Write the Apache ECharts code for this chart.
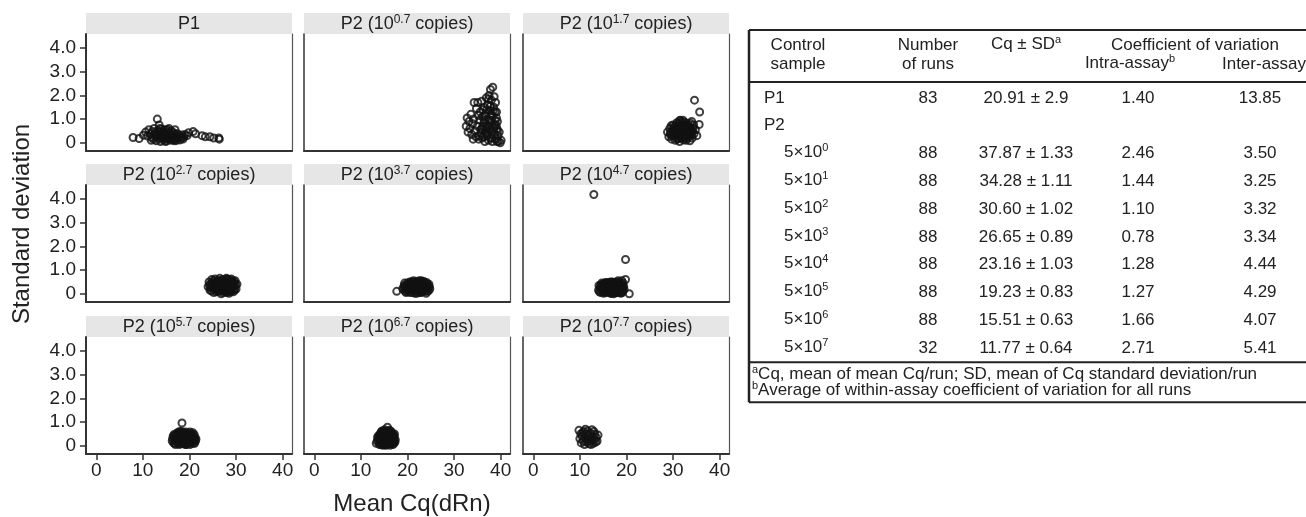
<!DOCTYPE html>
<html><head><meta charset="utf-8">
<script src="https://cdn.jsdelivr.net/npm/echarts@6/dist/echarts.min.js"></script>
<style>html,body{margin:0;padding:0;background:#fff}#c{width:1306px;height:517px}</style>
</head><body><div id="c"></div>
<script>
// ---------- DATA ----------
const panelBase = ['P1','P2 (10','P2 (10','P2 (10','P2 (10','P2 (10','P2 (10','P2 (10','P2 (10'];
const panelExp  = ['','0.7','1.7','2.7','3.7','4.7','5.7','6.7','7.7'];
const xTicks = [0,10,20,30,40];
const yTicks = [0,1,2,3,4];
const xTitle = 'Mean Cq(dRn)';
const yTitle = 'Standard deviation';

const dataP1 = [[7.9,0.22],[9.2,0.18],[10.1,0.32],[10.6,0.45],[11.0,0.28],[11.3,0.55],[11.6,0.38],[11.9,0.22],[12.1,0.48],[12.3,0.15],[12.4,0.6],[12.6,0.33],[12.8,0.42],[12.9,0.08],[13.0,0.25],[13.1,1.0],[13.2,0.52],[13.3,0.36],[13.4,0.18],[13.5,0.75],[13.6,0.45],[13.7,0.28],[13.8,0.05],[13.9,0.38],[14.0,0.58],[14.1,0.22],[14.2,0.32],[14.3,0.12],[14.4,0.47],[14.5,0.27],[14.6,0.4],[14.7,0.18],[14.8,0.55],[14.9,0.3],[15.0,0.08],[15.1,0.36],[15.2,0.24],[15.3,0.45],[15.4,0.15],[15.5,0.32],[15.6,0.6],[15.7,0.2],[15.8,0.4],[15.9,0.1],[16.0,0.28],[16.1,0.5],[16.2,0.18],[16.3,0.35],[16.4,0.25],[16.5,0.12],[16.6,0.42],[16.7,0.3],[16.8,0.2],[16.9,0.55],[17.0,0.15],[17.1,0.34],[17.2,0.24],[17.3,0.1],[17.4,0.38],[17.6,0.2],[17.8,0.28],[18.0,0.12],[18.2,0.33],[18.4,0.22],[18.6,0.16],[18.8,0.25],[19.0,0.35],[11.8,0.1],[12.2,0.3],[14.9,0.05],[16.8,0.08],[13.6,0.6],[15.3,0.55],[19.5,0.3],[20.8,0.47],[21.3,0.38],[22.7,0.3],[23.4,0.25],[24.4,0.25],[25.2,0.2],[26.3,0.2],[26.4,0.15],[19.8,0.42]];
const dataP2e07 = [[32.6,0.7],[32.8,1.05],[33.0,0.45],[33.2,0.9],[33.4,0.6],[33.6,1.2],[33.8,0.35],[34.0,0.8],[34.2,1.0],[34.3,1.7],[34.5,0.5],[34.7,0.25],[34.8,1.45],[35.0,0.7],[35.1,1.7],[35.3,0.15],[35.5,0.95],[35.6,1.3],[35.8,0.4],[35.9,1.75],[36.0,0.6],[36.1,1.1],[36.3,0.25],[36.4,0.85],[36.5,1.5],[36.6,0.05],[36.7,0.5],[36.8,1.25],[36.9,1.9],[37.0,0.75],[37.1,0.3],[37.2,1.6],[37.3,1.0],[37.4,0.1],[37.5,2.0],[37.6,0.55],[37.7,1.35],[37.8,2.25],[37.9,0.85],[38.0,1.8],[38.1,0.2],[38.2,1.15],[38.3,2.35],[38.4,0.65],[38.5,1.5],[38.6,1.95],[38.7,0.35],[38.8,0.95],[38.9,1.7],[39.0,0.15],[39.1,1.3],[39.2,0.6],[39.3,0.9],[39.4,0.3],[39.5,0.05],[39.7,0.45],[39.9,0.0],[40.1,0.1],[38.2,0.05],[36.2,1.4],[35.2,1.15],[34.1,0.15],[37.4,1.85],[38.0,0.45],[36.8,0.6],[35.7,0.55],[37.9,1.2],[38.8,1.3],[36.5,0.95],[39.0,0.75],[37.2,0.4],[35.4,0.3],[38.5,0.55],[37.6,0.95],[36.0,0.2],[39.2,0.05],[36.2,0.7],[36.6,1.15],[37.0,1.4],[37.3,0.65],[37.7,0.2],[38.1,0.95],[38.4,1.35],[38.7,0.75],[39.1,1.05],[39.3,0.5],[37.8,1.55],[36.9,0.4]];
const dataP2e17 = [[28.8,0.45],[29.1,0.25],[29.3,0.6],[29.5,0.35],[29.7,0.15],[29.9,0.5],[30.0,0.75],[30.2,0.3],[30.4,0.55],[30.5,0.1],[30.7,0.42],[30.8,0.85],[31.0,0.25],[31.1,0.62],[31.3,0.38],[31.4,0.05],[31.5,0.95],[31.6,0.5],[31.8,0.2],[31.9,0.7],[32.0,0.4],[32.2,0.12],[32.3,0.58],[32.4,0.88],[32.6,0.3],[32.7,0.48],[32.9,0.72],[33.0,0.18],[33.2,0.4],[33.4,0.6],[33.5,0.28],[33.7,0.82],[33.9,0.45],[34.1,0.2],[34.3,0.62],[34.5,0.38],[34.8,0.55],[35.1,0.3],[35.6,0.77],[35.7,1.3],[34.6,1.8],[30.3,0.68],[31.2,0.82],[32.1,0.95],[32.8,0.1],[33.6,0.08],[31.7,0.35],[30.9,0.15],[29.6,0.72],[34.0,0.9],[29.4,0.42],[29.8,0.28],[30.1,0.58],[30.3,0.45],[30.6,0.32],[30.6,0.7],[30.8,0.52],[31.0,0.4],[31.1,0.18],[31.2,0.55],[31.3,0.72],[31.5,0.3],[31.6,0.65],[31.7,0.48],[31.8,0.85],[31.9,0.25],[32.0,0.6],[32.1,0.35],[32.2,0.75],[32.3,0.42],[32.4,0.2],[32.5,0.55],[32.6,0.68],[32.7,0.32],[32.8,0.82],[32.9,0.45],[33.0,0.58],[33.1,0.25],[33.2,0.78],[33.3,0.5],[33.4,0.35],[33.5,0.65],[33.7,0.42],[33.8,0.6],[34.0,0.3],[34.2,0.48],[34.4,0.75],[31.4,0.92]];
const dataP2e27 = [[24.0,0.3],[24.2,0.5],[24.4,0.15],[24.6,0.4],[24.8,0.6],[25.0,0.25],[25.2,0.05],[25.4,0.45],[25.5,0.62],[25.7,0.2],[25.9,0.35],[26.0,0.55],[26.2,0.1],[26.4,0.3],[26.5,0.65],[26.7,0.45],[26.8,0.0],[27.0,0.22],[27.1,0.58],[27.3,0.38],[27.4,0.12],[27.6,0.5],[27.7,0.28],[27.9,0.65],[28.0,0.05],[28.2,0.42],[28.3,0.2],[28.5,0.6],[28.6,0.32],[28.8,0.1],[28.9,0.5],[29.1,0.25],[29.3,0.45],[29.4,0.08],[29.6,0.35],[29.8,0.55],[30.0,0.2],[30.2,0.4],[25.3,0.35],[26.1,0.4],[27.2,0.05],[28.1,0.55],[29.0,0.62],[26.9,0.3],[25.8,0.5],[27.8,0.15],[24.5,0.25],[29.7,0.15],[24.3,0.38],[24.7,0.12],[24.9,0.48],[25.1,0.3],[25.4,0.18],[25.6,0.4],[25.8,0.08],[26.0,0.28],[26.2,0.48],[26.3,0.2],[26.5,0.38],[26.6,0.12],[26.8,0.55],[27.0,0.4],[27.1,0.15],[27.3,0.6],[27.4,0.28],[27.5,0.45],[27.7,0.08],[27.8,0.38],[28.0,0.25],[28.1,0.62],[28.3,0.35],[28.4,0.1],[28.6,0.48],[28.7,0.22],[28.9,0.38],[29.0,0.12],[29.2,0.55],[29.3,0.3],[29.5,0.2],[29.6,0.5],[29.9,0.38],[26.4,0.55],[25.5,0.25],[27.5,0.22],[28.5,0.02],[26.7,0.25],[25.2,0.55],[29.1,0.45]];
const dataP2e37 = [[17.7,0.1],[19.0,0.2],[19.3,0.35],[19.5,0.1],[19.8,0.28],[20.0,0.45],[20.2,0.15],[20.4,0.32],[20.6,0.05],[20.8,0.5],[21.0,0.22],[21.2,0.4],[21.3,0.55],[21.5,0.12],[21.7,0.3],[21.9,0.48],[22.0,0.02],[22.2,0.25],[22.4,0.38],[22.5,0.55],[22.7,0.15],[22.9,0.32],[23.1,0.45],[23.2,0.08],[23.4,0.28],[23.6,0.4],[23.8,0.18],[24.0,0.35],[24.2,0.1],[24.4,0.25],[24.6,0.4],[24.8,0.2],[20.5,0.38],[21.6,0.02],[22.8,0.5],[23.5,0.52],[19.7,0.05],[24.1,0.48],[19.2,0.28],[19.4,0.45],[19.6,0.18],[19.9,0.38],[20.1,0.08],[20.3,0.25],[20.5,0.5],[20.7,0.18],[20.9,0.35],[21.1,0.05],[21.2,0.28],[21.4,0.45],[21.5,0.35],[21.6,0.2],[21.8,0.52],[21.9,0.12],[22.0,0.38],[22.1,0.28],[22.3,0.48],[22.3,0.1],[22.5,0.22],[22.6,0.4],[22.7,0.3],[22.9,0.05],[23.0,0.22],[23.0,0.55],[23.2,0.38],[23.3,0.18],[23.5,0.3],[23.7,0.1],[23.8,0.45],[23.9,0.25],[24.1,0.2],[24.3,0.38],[24.5,0.12],[24.7,0.3],[20.0,0.22],[20.6,0.28],[21.0,0.45],[21.8,0.25],[22.2,0.15],[22.6,0.05],[23.4,0.45],[24.0,0.02],[19.5,0.25],[21.3,0.15]];
const dataP2e47 = [[13.0,4.2],[19.8,1.45],[19.8,0.6],[20.6,0.0],[14.0,0.15],[14.3,0.3],[14.5,0.05],[14.8,0.22],[15.0,0.4],[15.2,0.12],[15.4,0.3],[15.6,0.48],[15.8,0.08],[16.0,0.25],[16.2,0.38],[16.4,0.15],[16.6,0.5],[16.8,0.02],[17.0,0.3],[17.2,0.18],[17.4,0.42],[17.6,0.1],[17.8,0.28],[18.0,0.5],[18.2,0.2],[18.4,0.35],[18.6,0.05],[18.8,0.25],[19.0,0.42],[19.2,0.15],[19.4,0.3],[15.1,0.02],[16.9,0.45],[17.9,0.05],[18.9,0.1],[15.9,0.35],[14.6,0.38],[17.3,0.0],[14.1,0.35],[14.2,0.08],[14.4,0.2],[14.7,0.45],[14.9,0.1],[15.0,0.28],[15.2,0.42],[15.3,0.2],[15.5,0.05],[15.6,0.32],[15.7,0.22],[15.8,0.45],[16.0,0.12],[16.1,0.3],[16.2,0.05],[16.3,0.48],[16.4,0.28],[16.5,0.35],[16.7,0.2],[16.8,0.4],[16.9,0.12],[17.0,0.5],[17.1,0.05],[17.2,0.35],[17.4,0.25],[17.5,0.48],[17.6,0.3],[17.7,0.15],[17.8,0.42],[18.0,0.05],[18.1,0.32],[18.3,0.12],[18.4,0.48],[18.5,0.22],[18.7,0.4],[18.8,0.02],[19.0,0.3],[19.1,0.05],[19.3,0.45],[19.5,0.18],[15.4,0.45],[16.6,0.02],[17.9,0.22],[18.6,0.32],[14.8,0.32],[16.2,0.25],[17.5,0.08],[19.2,0.28],[19.0,0.55],[18.2,0.55]];
const dataP2e57 = [[18.4,0.96],[16.3,0.2],[16.5,0.4],[16.8,0.1],[17.0,0.3],[17.2,0.5],[17.4,0.18],[17.6,0.38],[17.8,0.05],[18.0,0.28],[18.2,0.48],[18.4,0.15],[18.6,0.35],[18.8,0.55],[19.0,0.22],[19.2,0.42],[19.4,0.08],[19.6,0.3],[19.8,0.5],[20.0,0.15],[20.2,0.38],[20.4,0.25],[20.6,0.45],[20.8,0.1],[21.0,0.32],[21.3,0.2],[17.9,0.6],[19.1,0.05],[20.1,0.58],[18.9,0.3],[16.4,0.3],[16.6,0.12],[16.7,0.48],[16.9,0.22],[17.0,0.05],[17.1,0.38],[17.3,0.28],[17.4,0.55],[17.5,0.1],[17.6,0.22],[17.7,0.45],[17.8,0.32],[17.9,0.15],[18.0,0.5],[18.1,0.38],[18.2,0.08],[18.3,0.25],[18.4,0.42],[18.5,0.55],[18.6,0.2],[18.7,0.1],[18.8,0.35],[18.9,0.48],[19.0,0.15],[19.1,0.32],[19.2,0.58],[19.3,0.25],[19.4,0.45],[19.5,0.18],[19.6,0.52],[19.7,0.1],[19.8,0.35],[19.9,0.25],[20.0,0.42],[20.1,0.05],[20.2,0.28],[20.3,0.5],[20.4,0.12],[20.5,0.35],[20.6,0.22],[20.7,0.55],[20.8,0.38],[20.9,0.2],[21.0,0.48],[21.1,0.1],[21.2,0.35],[17.2,0.2],[17.8,0.55],[18.3,0.6],[18.7,0.45],[19.3,0.05],[19.6,0.4],[20.0,0.3],[20.4,0.45],[16.8,0.4],[17.5,0.35],[18.1,0.18],[21.4,0.28]];
const dataP2e67 = [[13.3,0.1],[13.8,0.25],[14.0,0.45],[14.2,0.15],[14.4,0.35],[14.5,0.55],[14.7,0.2],[14.9,0.4],[15.0,0.05],[15.1,0.6],[15.3,0.3],[15.5,0.48],[15.6,0.12],[15.7,0.78],[15.8,0.35],[16.0,0.55],[16.1,0.2],[16.3,0.42],[16.5,0.08],[16.6,0.3],[16.8,0.5],[17.0,0.18],[17.2,0.35],[17.4,0.25],[14.6,0.62],[16.2,0.65],[15.4,0.02],[16.9,0.05],[13.5,0.2],[13.6,0.35],[13.9,0.12],[14.0,0.3],[14.1,0.5],[14.2,0.4],[14.3,0.05],[14.3,0.25],[14.5,0.15],[14.5,0.42],[14.6,0.3],[14.7,0.55],[14.8,0.1],[14.8,0.35],[14.9,0.22],[15.0,0.45],[15.0,0.3],[15.1,0.15],[15.2,0.52],[15.2,0.05],[15.3,0.4],[15.4,0.22],[15.4,0.6],[15.5,0.3],[15.6,0.42],[15.6,0.05],[15.7,0.2],[15.7,0.55],[15.8,0.12],[15.9,0.45],[15.9,0.28],[16.0,0.38],[16.0,0.08],[16.1,0.5],[16.2,0.32],[16.2,0.15],[16.3,0.25],[16.4,0.55],[16.4,0.38],[16.5,0.2],[16.6,0.45],[16.7,0.12],[16.7,0.35],[16.8,0.25],[16.9,0.4],[17.0,0.3],[17.1,0.45],[17.1,0.1],[17.3,0.15],[14.4,0.6],[15.1,0.68],[15.8,0.62],[16.5,0.6],[13.7,0.4],[14.0,0.05],[16.0,0.2],[15.3,0.1],[14.7,0.02],[16.3,0.02],[17.2,0.5]];
const dataP2e77 = [[9.8,0.65],[10.0,0.3],[10.2,0.5],[10.3,0.12],[10.5,0.4],[10.7,0.2],[10.8,0.6],[11.0,0.05],[11.1,0.35],[11.3,0.5],[11.4,0.15],[11.6,0.28],[11.7,0.62],[11.9,0.42],[12.0,0.08],[12.2,0.3],[12.3,0.52],[12.5,0.2],[12.6,0.68],[12.8,0.38],[12.9,0.1],[13.1,0.25],[13.2,0.5],[13.4,0.15],[13.5,0.35],[13.7,0.2],[13.9,0.45],[10.6,0.55],[11.8,0.18],[12.4,0.05],[13.0,0.6],[11.2,0.7]];
const panelData = [dataP1,dataP2e07,dataP2e17,dataP2e27,dataP2e37,dataP2e47,dataP2e57,dataP2e67,dataP2e77];

// table
const tableHead1 = ['Control','Number','Cq ± SD','Coefficient of variation'];
const tableHead2 = ['sample','of runs','Intra-assay','Inter-assay'];
const sampleBase = ['P1','P2','5×10','5×10','5×10','5×10','5×10','5×10','5×10','5×10'];
const sampleExp  = ['','','0','1','2','3','4','5','6','7'];
const runs  = ['83','','88','88','88','88','88','88','88','32'];
const cqSd  = ['20.91 ± 2.9','','37.87 ± 1.33','34.28 ± 1.11','30.60 ± 1.02','26.65 ± 0.89','23.16 ± 1.03','19.23 ± 0.83','15.51 ± 0.63','11.77 ± 0.64'];
const intra = ['1.40','','2.46','1.44','1.10','0.78','1.28','1.27','1.66','2.71'];
const inter = ['13.85','','3.50','3.25','3.32','3.34','4.44','4.29','4.07','5.41'];
const footA = 'Cq, mean of mean Cq/run; SD, mean of Cq standard deviation/run';
const footB = 'Average of within-assay coefficient of variation for all runs';

// ---------- LAYOUT ----------
const FONT = '"Liberation Sans", Arial, Helvetica, sans-serif';
const colLeft = [86, 304, 523], W = 206;
const rowTop = [34, 185, 337], H = 117, STRIP = 21;
const XMIN = -2.2, XMAX = 42, YMIN = -0.35, YMAX = 4.6;
const ink = '#222';

const grids = [], xAxes = [], yAxes = [], series = [], graphics = [];
for (let i = 0; i < 9; i++) {
  const r = Math.floor(i / 3), c = i % 3;
  grids.push({left: colLeft[c], top: rowTop[r], width: W, height: H, containLabel: false});
  const bottomRow = r === 2, leftCol = c === 0;
  xAxes.push({
    type: 'value', gridIndex: i, min: XMIN, max: XMAX, position: 'bottom',
    axisLine: {show: true, onZero: false, lineStyle: {color: '#333', width: 2}},
    axisTick: {show: bottomRow, customValues: xTicks, length: 6, lineStyle: {color: '#333', width: 1.5}},
    axisLabel: {show: bottomRow, customValues: xTicks, fontSize: 19, color: ink, fontFamily: FONT, margin: 7},
    splitLine: {show: false}
  });
  yAxes.push({
    type: 'value', gridIndex: i, min: YMIN, max: YMAX, position: 'left',
    axisLine: {show: true, onZero: false, lineStyle: {color: '#333', width: leftCol ? 2 : 1.5}},
    axisTick: {show: leftCol, customValues: yTicks, length: 6, lineStyle: {color: '#333', width: 1.5}},
    axisLabel: {show: leftCol, customValues: yTicks, fontSize: 19, color: ink, fontFamily: FONT, margin: 10,
      formatter: v => v === 0 ? '0' : v.toFixed(1)},
    splitLine: {show: false}
  });
  yAxes.push({
    type: 'value', gridIndex: i, min: YMIN, max: YMAX, position: 'right',
    axisLine: {show: true, onZero: false, lineStyle: {color: '#555', width: 1.2}},
    axisTick: {show: false}, axisLabel: {show: false}, splitLine: {show: false}
  });
  series.push({
    type: 'scatter', xAxisIndex: i, yAxisIndex: 2 * i, data: panelData[i],
    symbol: 'circle', symbolSize: 7, silent: true, animation: false,
    itemStyle: {color: 'rgba(0,0,0,0)', borderColor: '#111', borderWidth: 2}
  });
  graphics.push({type: 'rect', shape: {x: colLeft[c], y: rowTop[r] - STRIP, width: W, height: STRIP},
    style: {fill: '#e6e6e6'}, silent: true});
  const txt = panelExp[i] ? '{n|' + panelBase[i] + '}{s|' + panelExp[i] + '}{n| copies)}' : '{n|' + panelBase[i] + '}';
  graphics.push({type: 'text', x: colLeft[c] + W / 2, y: rowTop[r] - STRIP / 2 + 1, silent: true,
    style: {text: txt, align: 'center', verticalAlign: 'middle', fill: ink, fontFamily: FONT, fontSize: 18,
      rich: {n: {fontSize: 18, fill: ink, fontFamily: FONT}, s: {fontSize: 12, fill: ink, fontFamily: FONT, padding: [0, 0, 9, 0]}}}});
}

graphics.push({type: 'text', x: 22, y: 224, rotation: Math.PI / 2, silent: true,
  style: {text: yTitle, align: 'center', verticalAlign: 'middle', fill: ink, fontFamily: FONT, fontSize: 24}});
graphics.push({type: 'text', x: 412, y: 504, silent: true,
  style: {text: xTitle, align: 'center', verticalAlign: 'middle', fill: ink, fontFamily: FONT, fontSize: 24}});

// table
const TF = 17;
const tL = 749, tR = 1306, tTop = 30;
const headY1 = 45, headY2 = 64, headLine = 82, row0 = 98, rowStep = 27.8;
const footLine = row0 + 9 * rowStep + 14, foot1 = footLine + 13, foot2 = footLine + 29, tBottom = footLine + 40;
function hline(y) { graphics.push({type: 'line', shape: {x1: tL, y1: y, x2: tR, y2: y}, style: {stroke: '#222', lineWidth: 2}, silent: true}); }
function tx(x, y, text, align, rich) {
  const st = {text: text, align: align, verticalAlign: 'middle', fill: ink, fontFamily: FONT, fontSize: TF};
  if (rich) st.rich = {n: {fontSize: TF, fill: ink, fontFamily: FONT}, s: {fontSize: 11, fill: ink, fontFamily: FONT, padding: [0, 0, 9, 0]}};
  graphics.push({type: 'text', x: x, y: y, style: st, silent: true});
}
hline(tTop); hline(headLine); hline(footLine); hline(tBottom);
graphics.push({type: 'line', shape: {x1: tL, y1: tTop, x2: tL, y2: tBottom}, style: {stroke: '#222', lineWidth: 2.5}, silent: true});
const colX = [798, 928, 1026, 1138, 1260];
tx(colX[0], headY1, tableHead1[0], 'center');
tx(colX[1], headY1, tableHead1[1], 'center');
tx(colX[2], headY1 - 1, '{n|' + tableHead1[2] + '}{s|a}', 'center', true);
tx(1195, headY1, tableHead1[3], 'center');
tx(colX[0], headY2, tableHead2[0], 'center');
tx(colX[1], headY2, tableHead2[1], 'center');
tx(1130, headY2 - 1, '{n|' + tableHead2[2] + '}{s|b}', 'center', true);
tx(1264, headY2, tableHead2[3], 'center');
for (let k = 0; k < sampleBase.length; k++) {
  const y = row0 + k * rowStep;
  if (sampleExp[k]) tx(784, y - 1, '{n|' + sampleBase[k] + '}{s|' + sampleExp[k] + '}', 'left', true);
  else tx(764, y, sampleBase[k], 'left');
  if (runs[k]) tx(colX[1], y, runs[k], 'center');
  if (cqSd[k]) tx(colX[2], y, cqSd[k], 'center');
  if (intra[k]) tx(colX[3], y, intra[k], 'center');
  if (inter[k]) tx(colX[4], y, inter[k], 'center');
}
tx(752, foot1 - 1, '{s|a}{n|' + footA + '}', 'left', true);
tx(752, foot2 - 1, '{s|b}{n|' + footB + '}', 'left', true);

const chart = echarts.init(document.getElementById('c'), null, {renderer: 'canvas'});
chart.setOption({
  animation: false,
  backgroundColor: '#fff',
  grid: grids, xAxis: xAxes, yAxis: yAxes, series: series, graphic: graphics
});
</script></body></html>
